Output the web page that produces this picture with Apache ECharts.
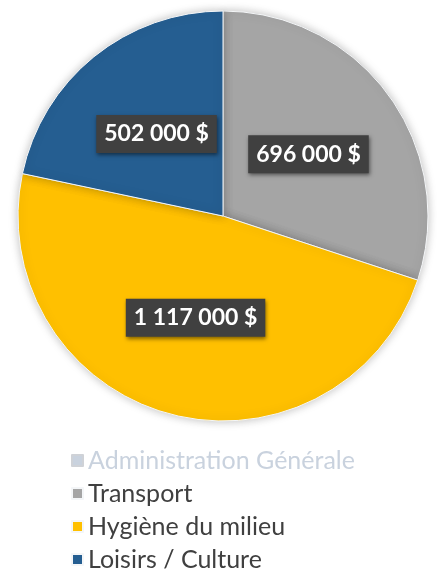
<!DOCTYPE html>
<html>
<head>
<meta charset="utf-8">
<script src="https://cdn.jsdelivr.net/npm/echarts@6/dist/echarts.min.js"></script>
<style>
  html, body { margin: 0; padding: 0; background: #fff; }
  #chart { width: 437px; height: 587px; }
</style>
</head>
<body>
<div id="chart"></div>
<script>
// données du graphique
const categories = ["Administration Générale", "Transport", "Hygiène du milieu", "Loisirs / Culture"];
const values = [0, 696000, 1117000, 502000];
const colors = ["#d6e0ec", "#a5a5a5", "#ffc000", "#255e91"];

const fmt = (v) => v.toLocaleString("fr-FR").replace(/[\u202f\u00a0]/g, " ") + " $";

const chart = echarts.init(document.getElementById("chart"));

const option = {
  animation: false,
  legend: {
    orient: "vertical",
    left: 66,
    top: 443,
    itemWidth: 11,
    itemHeight: 11,
    itemGap: 8,
    icon: "rect",
    inactiveColor: "#c9d2de",
    selected: { "Administration Générale": false },
    textStyle: { fontFamily: "Lato", fontSize: 25, color: "#404040" },
    data: categories,
  },
  series: [
    {
      type: "pie",
      center: [223, 216],
      radius: 205,
      startAngle: 90,
      clockwise: true,
      silent: true,
      itemStyle: {
        borderColor: "#f4f6f8",
        borderWidth: 1,
        shadowBlur: 10,
        shadowColor: "rgba(0,0,0,0.25)",
      },
      label: {
        position: "inside",
        formatter: (p) => fmt(p.value),
        fontFamily: "Lato",
        fontWeight: "bold",
        fontSize: 23,
        color: "#fff",
        backgroundColor: "#404040",
        padding: [8, 8, 7, 8],
        shadowBlur: 4,
        shadowColor: "rgba(0,0,0,0.5)",
        shadowOffsetX: 1,
        shadowOffsetY: 2,
      },
      labelLine: { show: false },
      data: categories.map((name, i) => ({
        name,
        value: values[i],
        itemStyle: { color: colors[i] },
      })),
    },
  ],
};

chart.setOption(option);
</script>
</body>
</html>
